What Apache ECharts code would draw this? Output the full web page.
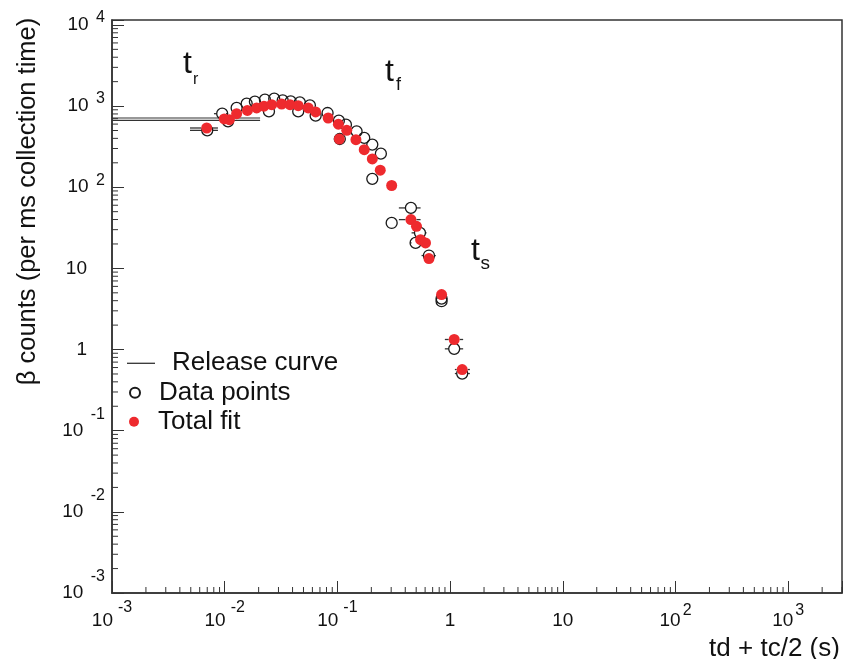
<!DOCTYPE html>
<html><head><meta charset="utf-8">
<script src="https://cdn.jsdelivr.net/npm/echarts@6/dist/echarts.min.js"></script>
<style>html,body{margin:0;padding:0;background:#fff}#c{width:844px;height:659px}</style>
</head><body><div id="c"></div>
<script>
// ---- data ----
const releaseX = [0.001, 0.0206];
const releaseUpperY = [713, 713];
const releaseLowerY = [667, 667];

const dataX = [0.0070, 0.0095, 0.0107, 0.01276, 0.01567, 0.01853, 0.02275, 0.0247, 0.0275, 0.0327, 0.0385, 0.0449, 0.0464, 0.0570, 0.0641, 0.0818, 0.103, 0.105, 0.119, 0.148, 0.173, 0.204, 0.204, 0.243, 0.303, 0.449, 0.494, 0.540, 0.649, 0.840, 0.840, 1.087, 1.28];
const dataY = [502, 806, 648, 948, 1071, 1133, 1199, 860, 1234, 1175, 1142, 860, 1111, 1020, 762, 822, 661, 393, 590, 488, 405, 335, 127, 259, 36.3, 55.6, 20.6, 27.4, 14.4, 4.25, 3.94, 1.02, 0.506];

const fitX = [0.00692, 0.0099, 0.0110, 0.01276, 0.0159, 0.0192, 0.0223, 0.0261, 0.0320, 0.0380, 0.0449, 0.0551, 0.0641, 0.0828, 0.102, 0.104, 0.121, 0.146, 0.173, 0.204, 0.240, 0.303, 0.449, 0.503, 0.547, 0.605, 0.649, 0.840, 1.087, 1.28];
const fitY = [537, 694, 680, 806, 883, 948, 997, 1040, 1061, 1040, 1011, 948, 846, 713, 598, 393, 502, 386, 290, 223, 162, 105, 39.9, 33, 22.6, 20.6, 13.2, 4.76, 1.33, 0.567];

// horizontal error bars: x, y, low, high
const dataErrX = [0.0070, 0.0095, 0.449, 0.494, 0.540, 0.649, 0.840, 1.087, 1.28];
const dataErrY = [502, 806, 55.6, 20.6, 27.4, 14.4, 4.25, 1.02, 0.506];
const dataErrLo = [0.00492, 0.00803, 0.351, 0.455, 0.455, 0.558, 0.763, 0.898, 1.102];
const dataErrHi = [0.00871, 0.01026, 0.547, 0.56, 0.618, 0.747, 0.917, 1.305, 1.497];

const fitErrX = [0.00692, 0.449, 1.087, 1.28];
const fitErrY = [537, 39.9, 1.33, 0.567];
const fitErrLo = [0.00492, 0.351, 0.898, 1.102];
const fitErrHi = [0.00871, 0.547, 1.305, 1.497];

// axis ticks
const xTickValues = [1e-3, 1e-2, 1e-1, 1, 10, 100, 1000];
const xTickLabels = ['10^-3', '10^-2', '10^-1', '1', '10', '10^2', '10^3'];
const yTickValues = [1e-3, 1e-2, 1e-1, 1, 10, 100, 1000, 10000];
const yTickLabels = ['10^-3', '10^-2', '10^-1', '1', '10', '10^2', '10^3', '10^4'];
const minorMultipliers = [2, 3, 4, 5, 6, 7, 8, 9];
const xMin = 0.001, xMax = 3000, yMin = 0.001, yMax = 11500;

// ---- helpers ----
function minorList(lo, hi) {
  const out = [];
  for (let e = -3; e <= 4; e++) for (const m of minorMultipliers) {
    const v = m * Math.pow(10, e);
    if (v > lo && v < hi * 1.0001) out.push(v);
  }
  return out;
}
function labelFor(values, labels, v, noExpStyle, b) {
  let idx = -1;
  for (let i = 0; i < values.length; i++) if (Math.abs(Math.log10(v) - Math.log10(values[i])) < 1e-6) idx = i;
  if (idx < 0) return '';
  const s = labels[idx];
  if (s.indexOf('^') < 0) return '{' + noExpStyle + '|' + s + '}';
  const parts = s.split('^');
  const st = parts[1].charAt(0) === '-' ? 'sn' : 'sp';
  return '{' + b + '|' + parts[0] + '}{' + st + '|' + parts[1] + '}';
}
const FF = 'Liberation Sans, Arial, Helvetica, sans-serif';
const TC = '#111';

const xRich = {
  b: {fontSize: 19, fontFamily: FF, color: TC, height: 19, lineHeight: 32, padding: [13, 0, 0, 0], verticalAlign: 'bottom'},
  sn: {fontSize: 16, fontFamily: FF, color: TC, height: 16, lineHeight: 30.5, padding: [0, 0, 14.5, 5], verticalAlign: 'bottom'},
  sp: {fontSize: 16, fontFamily: FF, color: TC, height: 16, lineHeight: 27.5, padding: [0, 0, 11.5, 2], verticalAlign: 'bottom'}
};
const yRich = {
  b: {fontSize: 19, fontFamily: FF, color: TC, height: 19, lineHeight: 50, padding: [15.5, 0, 15.5, 0]},
  bn: {fontSize: 19, fontFamily: FF, color: TC, height: 19, lineHeight: 50, padding: [15.5, 18, 15.5, 0]},
  sn: {fontSize: 16, fontFamily: FF, color: TC, height: 16, lineHeight: 17, padding: [1, 0, 0, 7.5], verticalAlign: 'top'},
  sp: {fontSize: 16, fontFamily: FF, color: TC, height: 16, lineHeight: 26, padding: [10, 0, 0, 7.5], verticalAlign: 'top'}
};

function errSeries(name, xs, ys, lo, hi) {
  return {
    type: 'custom', name: name, silent: true, z: 2,
    data: xs.map((x, i) => [x, ys[i], lo[i], hi[i]]),
    renderItem: function (params, api) {
      const y = api.value(1);
      const p = api.coord([api.value(0), y]);
      const a = api.coord([api.value(2), y]);
      const b = api.coord([api.value(3), y]);
      const r = 5.5;
      const st = {stroke: '#333', lineWidth: 1.3};
      return {type: 'group', children: [
        {type: 'line', shape: {x1: a[0], y1: p[1], x2: p[0] - r, y2: p[1]}, style: st},
        {type: 'line', shape: {x1: p[0] + r, y1: p[1], x2: b[0], y2: p[1]}, style: st}
      ]};
    }
  };
}

const chart = echarts.init(document.getElementById('c'), null, {renderer: 'canvas'});
const releaseData = releaseX.map((x, i) => [x, releaseUpperY[i]])
  .concat([[releaseX[releaseX.length - 1], '-']])
  .concat(releaseX.map((x, i) => [x, releaseLowerY[i]]));

const legendCommon = {
  orient: 'vertical', padding: 0, itemGap: 0, selectedMode: false,
  textStyle: {fontSize: 26, fontFamily: FF, color: TC, lineHeight: 28}
};

chart.setOption({
  animation: false,
  backgroundColor: '#fff',
  grid: {left: 112, top: 20, right: 2, bottom: 66, show: true, borderColor: '#333', borderWidth: 1.5,
    backgroundColor: 'transparent', containLabel: false, outerBoundsMode: 'none'},
  legend: [
    Object.assign({}, legendCommon, {data: [{name: 'Release curve', icon: 'rect'}], left: 127, top: 349.3, itemWidth: 28, itemHeight: 1.3,
      textStyle: Object.assign({}, legendCommon.textStyle, {padding: [0, 0, 0, 12]})}),
    Object.assign({}, legendCommon, {data: ['Data points'], left: 129, top: 378.7, itemWidth: 38, itemHeight: 10}),
    Object.assign({}, legendCommon, {data: ['Total fit'], left: 129, top: 407.7, itemWidth: 38, itemHeight: 10})
  ],
  xAxis: {
    type: 'log', logBase: 10, min: xMin, max: xMax,
    name: 'td + tc/2 (s)', nameLocation: 'middle', nameGap: 33,
    nameTextStyle: {fontSize: 26, fontFamily: FF, color: TC, padding: [0, 0, 0, 595]},
    axisLine: {show: true, lineStyle: {color: '#333', width: 1.5}},
    axisTick: {show: true, inside: true, length: 12, lineStyle: {color: '#333', width: 1}},
    minorTick: {show: false},
    splitLine: {show: false},
    axisLabel: {margin: 5.5, rich: xRich, formatter: v => labelFor(xTickValues, xTickLabels, v, 'b', 'b')}
  },
  yAxis: {
    type: 'log', logBase: 10, min: yMin, max: yMax,
    name: 'β counts (per ms collection time)', nameLocation: 'middle', nameRotate: 90, nameGap: 71,
    nameTextStyle: {fontSize: 25.5, fontFamily: FF, color: TC, padding: [0, 0, 0, 210]},
    axisLine: {show: true, lineStyle: {color: '#333', width: 1.5}},
    axisTick: {show: true, inside: true, length: 12, lineStyle: {color: '#333', width: 1}},
    minorTick: {show: false},
    splitLine: {show: false},
    axisLabel: {margin: 7, rich: yRich, formatter: v => labelFor(yTickValues, yTickLabels, v, 'bn', 'b')}
  },
  graphic: [
    {type: 'text', x: 183, y: 63.8, style: {text: 't', fontSize: 32, fontFamily: FF, fill: TC, verticalAlign: 'middle'}},
    {type: 'text', x: 193, y: 80, style: {text: 'r', fontSize: 16, fontFamily: FF, fill: TC, verticalAlign: 'middle'}},
    {type: 'text', x: 385, y: 72, style: {text: 't', fontSize: 32, fontFamily: FF, fill: TC, verticalAlign: 'middle'}},
    {type: 'text', x: 396, y: 85, style: {text: 'f', fontSize: 18, fontFamily: FF, fill: TC, verticalAlign: 'middle'}},
    {type: 'text', x: 471, y: 251.5, style: {text: 't', fontSize: 32, fontFamily: FF, fill: TC, verticalAlign: 'middle'}},
    {type: 'text', x: 480.5, y: 264, style: {text: 's', fontSize: 19, fontFamily: FF, fill: TC, verticalAlign: 'middle'}}
  ],
  series: [
    {
      type: 'custom', name: 'xMinor', silent: true, clip: false, z: 1,
      data: minorList(xMin, xMax).map(v => [v, yMin]),
      renderItem: function (params, api) {
        const p = api.coord([api.value(0), api.value(1)]);
        return {type: 'line', shape: {x1: p[0], y1: p[1], x2: p[0], y2: p[1] - 6}, style: {stroke: '#333', lineWidth: 1}};
      }
    },
    {
      type: 'custom', name: 'yMinor', silent: true, clip: false, z: 1,
      data: minorList(yMin, yMax).map(v => [xMin, v]),
      renderItem: function (params, api) {
        const p = api.coord([api.value(0), api.value(1)]);
        return {type: 'line', shape: {x1: p[0], y1: p[1], x2: p[0] + 6, y2: p[1]}, style: {stroke: '#333', lineWidth: 1}};
      }
    },
    {
      type: 'line', name: 'Release curve', data: releaseData, symbol: 'none', showSymbol: false, connectNulls: false, z: 2,
      lineStyle: {color: '#333', width: 1.2}, itemStyle: {color: '#333'}
    },
    errSeries('errData', dataErrX, dataErrY, dataErrLo, dataErrHi),
    errSeries('errFit', fitErrX, fitErrY, fitErrLo, fitErrHi),
    {
      type: 'scatter', name: 'Data points', symbol: 'circle', symbolSize: 11, z: 3,
      data: dataX.map((x, i) => [x, dataY[i]]),
      itemStyle: {color: 'rgba(255,255,255,0)', borderColor: '#1a1a1a', borderWidth: 1.3, opacity: 1}
    },
    {
      type: 'scatter', name: 'Total fit', symbol: 'circle', symbolSize: 11, z: 4,
      data: fitX.map((x, i) => [x, fitY[i]]),
      itemStyle: {color: '#ee2a2e', opacity: 1}
    }
  ]
});
</script>
</body></html>
